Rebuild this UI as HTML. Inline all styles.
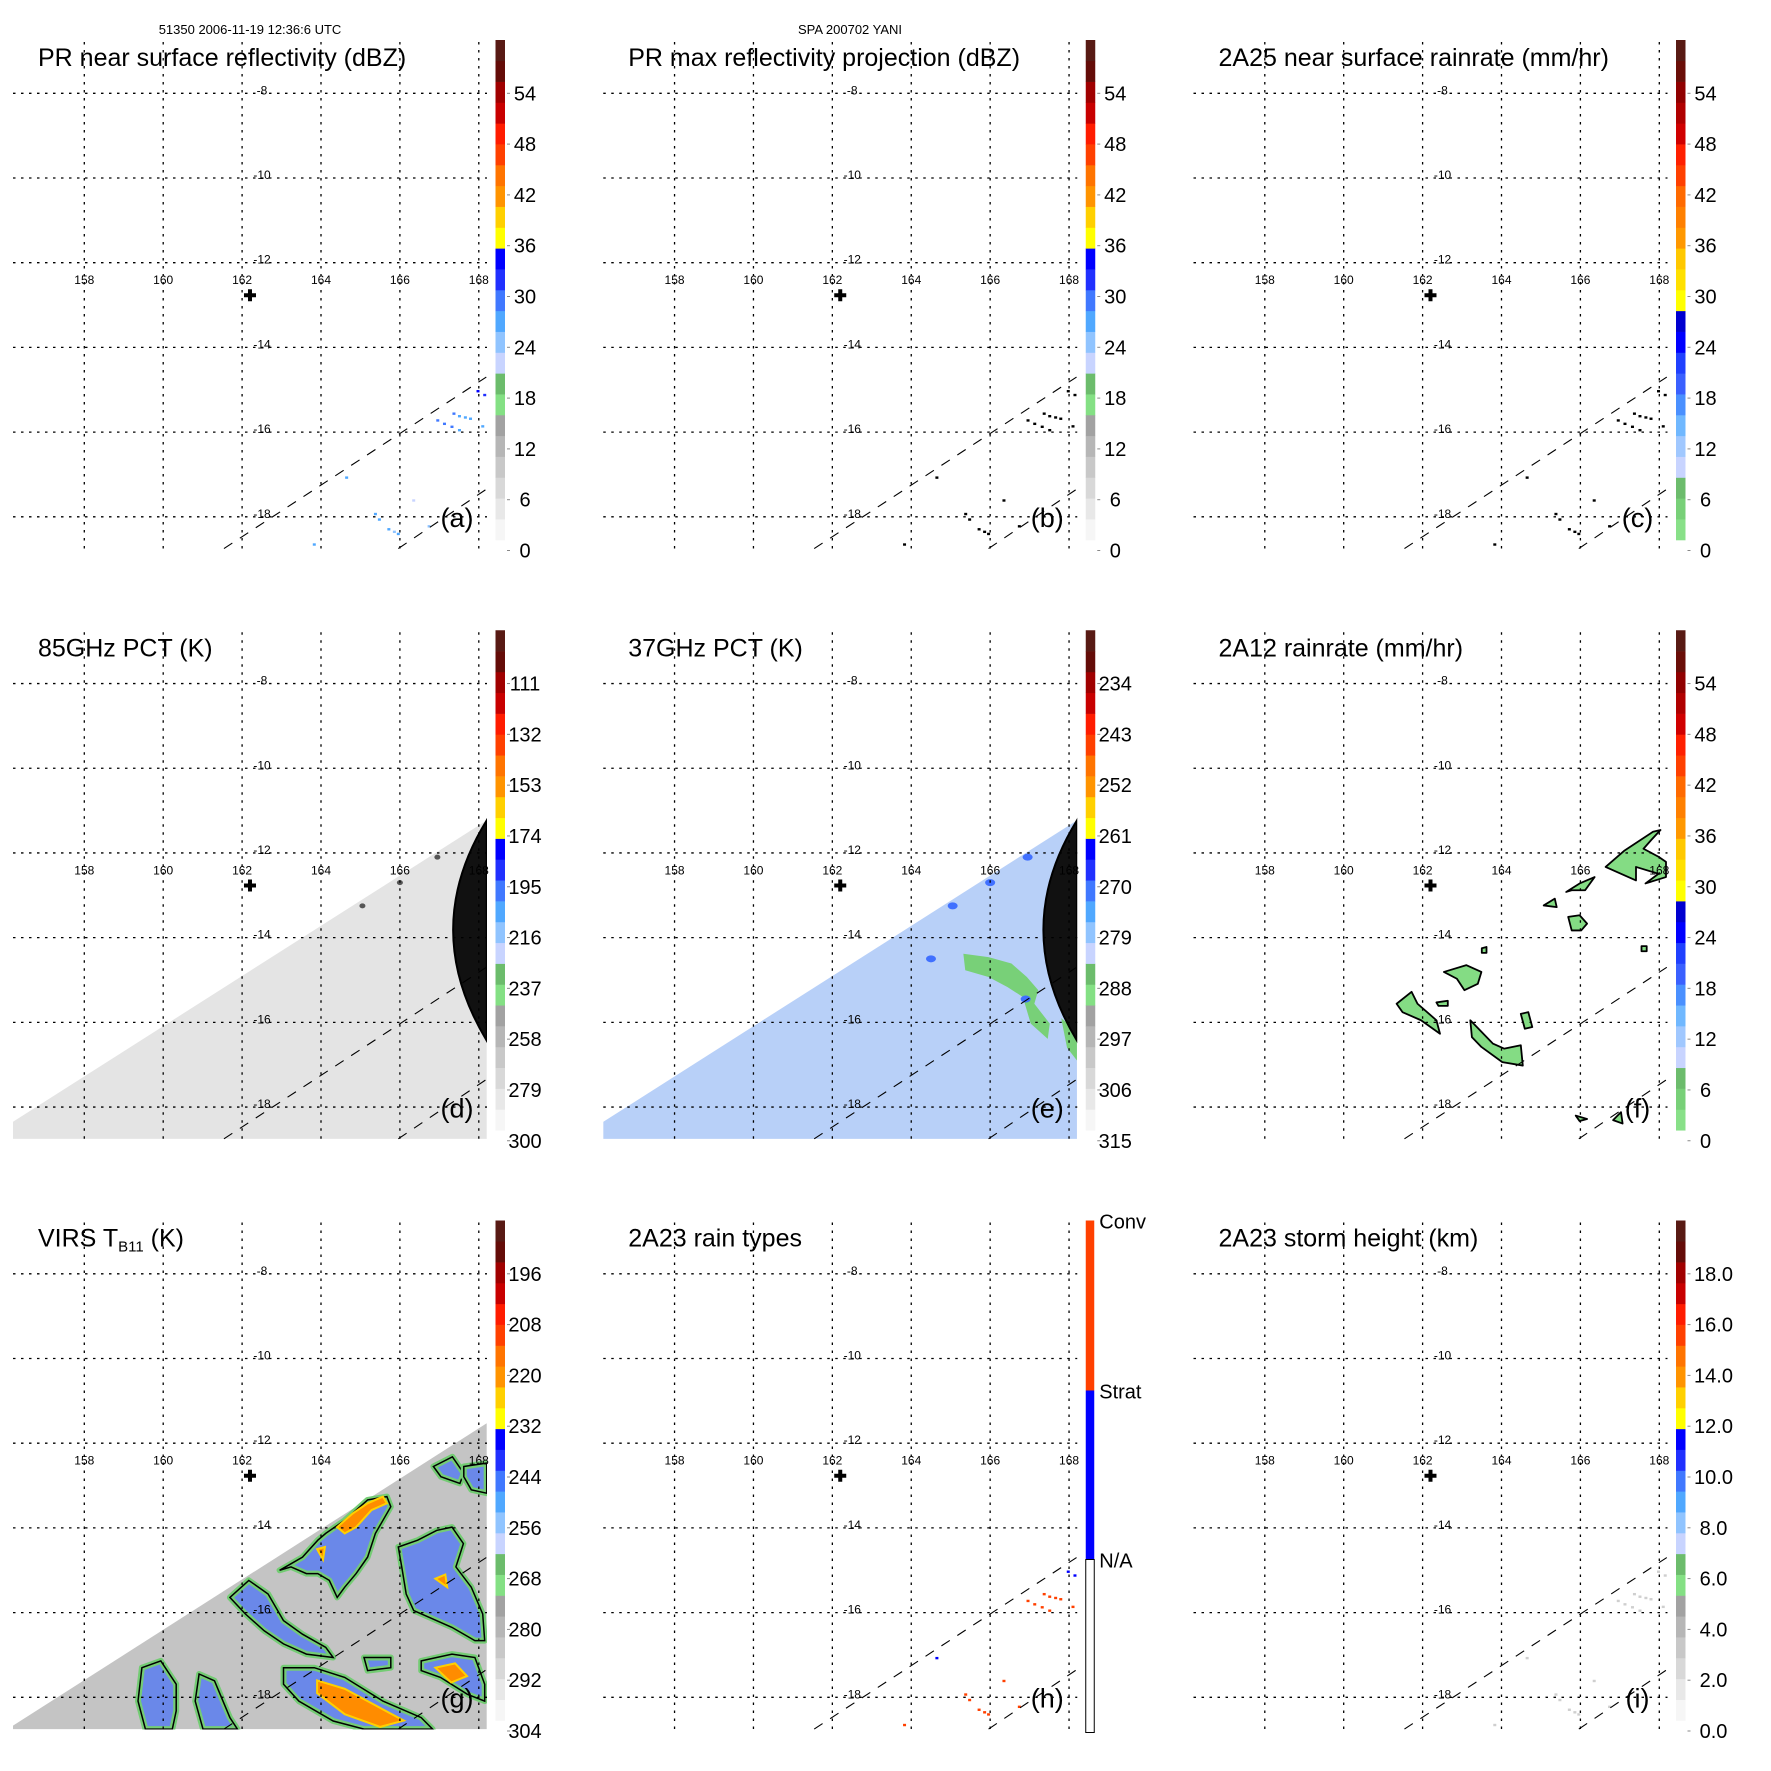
<!DOCTYPE html>
<html><head><meta charset="utf-8">
<style>
html,body{margin:0;padding:0;background:#fff;}
svg{display:block;font-family:"Liberation Sans",Arial,sans-serif;}
</style></head>
<body>
<svg id="fig" xmlns="http://www.w3.org/2000/svg" width="1771" height="1771" viewBox="0 0 1771 1771">
<rect x="0" y="0" width="1771" height="1771" fill="#fff"/>
<text x="250" y="34" font-size="13" text-anchor="middle">51350 2006-11-19 12:36:6 UTC</text>
<text x="850" y="34" font-size="13" text-anchor="middle">SPA 200702 YANI</text>
</svg>
<script>
// ---------- data arrays ----------
const lonTicks = [158, 160, 162, 164, 166, 168];
const latTicks = [-8, -10, -12, -14, -16, -18];
const stormCenter = [162.2, -12.77];
const swathEdge1 = [[161.54, -18.75], [168.19, -14.70]];
const swathEdge2 = [[165.96, -18.75], [168.19, -17.35]];
const prLons = [167.98, 168.15, 167.37, 167.51, 167.66, 167.79, 166.96, 167.13, 167.32, 167.51, 168.10, 164.65, 166.35, 165.38, 165.48, 165.72, 165.86, 165.96, 166.74, 163.83];
const prLats = [-15.03, -15.12, -15.56, -15.62, -15.65, -15.68, -15.72, -15.80, -15.87, -15.95, -15.86, -17.07, -17.61, -17.93, -18.06, -18.29, -18.35, -18.40, -18.22, -18.65];
const prDbz = [31, 29, 25, 24, 24, 23, 26, 25, 25, 24, 22, 22, 17, 22, 22, 22, 21, 22, 21, 22];
const rainType = [2, 2, 1, 1, 1, 1, 1, 1, 1, 1, 1, 2, 1, 1, 1, 1, 1, 1, 1, 1];
const ticksA = ['0', '6', '12', '18', '24', '30', '36', '42', '48', '54'];
const ticksC = ['0', '6', '12', '18', '24', '30', '36', '42', '48', '54'];
const ticksD = ['300', '279', '258', '237', '216', '195', '174', '153', '132', '111'];
const ticksE = ['315', '306', '297', '288', '279', '270', '261', '252', '243', '234'];
const ticksG = ['304', '292', '280', '268', '256', '244', '232', '220', '208', '196'];
const ticksI = ['0.0', '2.0', '4.0', '6.0', '8.0', '10.0', '12.0', '14.0', '16.0', '18.0'];
const swathDE = [[156.19, -18.35], [168.2, -11.23], [168.2, -18.75], [156.19, -18.75]];
const swathG = [[156.19, -18.67], [168.2, -11.53], [168.2, -18.75], [156.19, -18.75]];
const arcTop = [168.2, -11.23], arcCtrl = [166.5, -13.8], arcBot = [168.2, -16.43];
const eGreen = [[165.32,-14.38],[165.96,-14.46],[166.54,-14.61],[166.93,-14.93],[167.22,-15.24],[167.12,-15.56],[167.51,-16.03],[167.46,-16.39],[167.03,-16.03],[166.83,-15.40],[166.44,-15.17],[165.96,-14.93],[165.37,-14.77]];
const eGreen2 = [[167.8,-15.9],[168.2,-16.2],[168.2,-16.9],[167.95,-16.6]];
const eDark = [[165.05,-13.25],[166.0,-12.7],[166.95,-12.1],[164.5,-14.5],[166.9,-15.45]];
const fBlobs = [
 [[163.21,-15.95],[163.78,-16.50],[164.07,-16.62],[164.49,-16.54],[164.54,-17.02],[164.02,-16.94],[163.49,-16.58],[163.25,-16.35]],
 [[161.34,-15.56],[161.72,-15.28],[161.87,-15.56],[162.35,-15.95],[162.44,-16.27],[161.96,-15.95],[161.49,-15.76]],
 [[162.54,-14.81],[163.11,-14.65],[163.49,-14.81],[163.40,-15.09],[163.06,-15.24],[162.87,-14.97]],
 [[165.69,-13.51],[165.98,-13.47],[166.17,-13.67],[166.02,-13.83],[165.78,-13.83]],
 [[165.64,-12.92],[165.98,-12.72],[166.36,-12.57],[166.12,-12.88],[165.78,-12.88]],
 [[165.07,-13.24],[165.35,-13.08],[165.40,-13.28]],
 [[166.64,-12.33],[167.12,-11.94],[167.84,-11.50],[168.03,-11.46],[167.79,-11.70],[167.60,-11.90],[167.98,-12.09],[168.17,-12.21],[168.17,-12.57],[167.65,-12.72],[167.98,-12.49],[167.41,-12.33],[167.41,-12.65],[166.93,-12.45]],
 [[162.35,-15.53],[162.64,-15.49],[162.64,-15.61],[162.40,-15.61]],
 [[165.88,-18.20],[166.17,-18.28],[165.98,-18.33]],
 [[166.83,-18.31],[167.03,-18.12],[167.07,-18.39]],
 [[164.49,-15.80],[164.68,-15.76],[164.78,-16.11],[164.59,-16.15]],
 [[163.5,-14.25],[163.62,-14.22],[163.62,-14.36],[163.5,-14.36]],
 [[167.55,-14.2],[167.68,-14.2],[167.68,-14.32],[167.55,-14.32]]
];
const gBlue = [
 [[164.12,-14.13],[164.60,-13.82],[165.18,-13.34],[165.67,-13.26],[165.77,-13.50],[165.38,-14.13],[165.18,-14.69],[164.89,-15.08],[164.60,-15.40],[164.41,-15.64],[164.21,-15.24],[163.92,-15.08],[163.63,-15.08],[163.24,-14.92],[162.95,-15.00],[163.53,-14.69],[163.92,-14.29]],
 [[165.96,-14.45],[166.45,-14.29],[166.93,-14.06],[167.32,-13.98],[167.61,-14.37],[167.42,-14.92],[167.81,-15.40],[168.10,-16.03],[168.15,-16.66],[167.90,-16.66],[167.32,-16.35],[166.74,-16.11],[166.35,-15.95],[166.16,-15.56],[166.06,-15.00]],
 [[161.69,-15.64],[162.17,-15.24],[162.66,-15.56],[163.05,-16.19],[163.53,-16.51],[164.12,-16.82],[164.31,-17.06],[163.63,-16.98],[163.05,-16.74],[162.56,-16.43],[162.08,-16.03]],
 [[163.05,-17.30],[163.83,-17.30],[164.60,-17.53],[165.57,-18.09],[166.54,-18.48],[166.83,-18.75],[165.09,-18.75],[164.31,-18.56],[163.44,-18.09],[163.05,-17.69]],
 [[159.46,-17.30],[159.94,-17.14],[160.33,-17.69],[160.33,-18.32],[160.23,-18.75],[159.55,-18.75],[159.36,-18.09]],
 [[160.91,-17.45],[161.30,-17.61],[161.69,-18.48],[161.88,-18.75],[161.01,-18.75],[160.81,-18.09]],
 [[166.54,-17.14],[167.32,-16.98],[167.90,-17.06],[168.15,-17.69],[168.15,-18.09],[167.71,-17.93],[167.03,-17.53],[166.54,-17.37]],
 [[166.85,-12.55],[167.33,-12.32],[167.62,-12.71],[167.52,-12.95],[167.04,-12.79]],
 [[167.62,-12.55],[168.2,-12.47],[168.2,-13.18],[167.81,-13.10],[167.62,-12.79]],
 [[165.09,-17.06],[165.77,-17.06],[165.77,-17.30],[165.18,-17.37]]
];
const gOrange = [
 [[164.41,-13.98],[164.80,-13.66],[165.18,-13.42],[165.57,-13.26],[165.67,-13.42],[165.28,-13.58],[164.89,-13.98],[164.60,-14.13]],
 [[163.9,-17.6],[164.6,-17.8],[165.4,-18.2],[166.1,-18.55],[165.5,-18.7],[164.6,-18.4],[163.9,-17.9]],
 [[166.9,-17.3],[167.4,-17.2],[167.7,-17.5],[167.3,-17.65]],
 [[166.9,-15.2],[167.15,-15.1],[167.2,-15.4]],
 [[163.9,-14.5],[164.1,-14.45],[164.05,-14.75]]
];
const hBars = [
 {label:'Conv', color:'#ff4000'},
 {label:'Strat', color:'#0000ff'},
 {label:'N/A', color:'#ffffff'}
];
const schemeA = ['#f6f6f6','#e8e8e8','#d8d8d8','#c8c8c8','#b6b6b6','#a2a2a2','#84e084','#6cbc6c','#c8d4ff','#90c4ff','#50a8ff','#4078ff','#2030ff','#0000ff','#ffff00','#ffd000','#ff9400','#ff7400','#ff4000','#ff1c00','#c80000','#a00000','#640c08','#581a14'];
const schemeC = ['#88e088','#78d078','#6cbc6c','#c8d4ff','#a0c8ff','#70b8ff','#4a90ff','#3a60ff','#2040ff','#0000ff','#0000d0','#ffff00','#ffe000','#ffc800','#ff9800','#ff8000','#ff6a00','#ff4000','#ff2000','#d00000','#b00000','#900000','#6a0e08','#581a14'];

// ---------- helpers ----------
const NS = 'http://www.w3.org/2000/svg';
const svg = document.getElementById('fig');
const X = lon => 84.3 + (lon - 158) * 39.45;
const Y = lat => 93.3 + (-8 - lat) * 42.35;
const P = 590.25;
function el(tag, attrs, parent) {
  const e = document.createElementNS(NS, tag);
  for (const k in attrs) e.setAttribute(k, attrs[k]);
  parent.appendChild(e);
  return e;
}
function pts(arr) { return arr.map(p => X(p[0]).toFixed(1) + ',' + Y(p[1]).toFixed(1)).join(' '); }
function dbzColor(v, scheme) { let i = Math.floor(v / 60 * scheme.length); return scheme[Math.max(0, Math.min(scheme.length - 1, i))]; }

const panels = [
 {id:'a', title:'PR near surface reflectivity (dBZ)', ticks:ticksA, scheme:schemeA},
 {id:'b', title:'PR max reflectivity projection (dBZ)', ticks:ticksA, scheme:schemeA},
 {id:'c', title:'2A25 near surface rainrate (mm/hr)', ticks:ticksC, scheme:schemeC},
 {id:'d', title:'85GHz PCT (K)', ticks:ticksD, scheme:schemeA},
 {id:'e', title:'37GHz PCT (K)', ticks:ticksE, scheme:schemeA},
 {id:'f', title:'2A12 rainrate (mm/hr)', ticks:ticksC, scheme:schemeC},
 {id:'g', title:'VIRS T', ticks:ticksG, scheme:schemeA},
 {id:'h', title:'2A23 rain types', ticks:null, scheme:null},
 {id:'i', title:'2A23 storm height (km)', ticks:ticksI, scheme:schemeA}
];

panels.forEach((p, idx) => {
  const col = idx % 3, row = Math.floor(idx / 3);
  const g = el('g', {transform:`translate(${(col*P).toFixed(2)},${(row*P).toFixed(2)})`}, svg);
  
  

  const cp = el('clipPath', {id:'clip-' + p.id}, g);
  el('rect', {x:13, y:42, width:474, height:507}, cp);
  const data = el('g', {'clip-path':`url(#clip-${p.id})`}, g);
  
  

  if (p.id === 'd' || p.id === 'e') {
    const sw = el('polygon', {points:pts(swathDE), fill: p.id === 'd' ? '#e4e4e4' : '#b8d0f8'}, data);
    
    
    if (p.id === 'e') {
      [eGreen, eGreen2].forEach(b => {
        const q = el('polygon', {points:pts(b), fill:'#78d078'}, data);
        
        
      });
      eDark.forEach(c => {
        const q = el('ellipse', {cx:X(c[0]), cy:Y(c[1]), rx:5, ry:3.5, fill:'#4070ff'}, data);
        
        
      });
    } else {
      eDark.slice(0, 3).forEach(c => {
        const q = el('ellipse', {cx:X(c[0]), cy:Y(c[1]), rx:3, ry:2.5, fill:'#555'}, data);
        
        
      });
    }
    const arc = el('path', {d:`M${X(arcTop[0])},${Y(arcTop[1])} Q${X(arcCtrl[0])},${Y(arcCtrl[1])} ${X(arcBot[0])},${Y(arcBot[1])} Z`, fill:'#111', stroke:'#000', 'stroke-width':2}, data);
    
    
  }
  if (p.id === 'g') {
    const sw = el('polygon', {points:pts(swathG), fill:'#c4c4c4'}, data);
    
    
    gBlue.forEach(b => {
      const q = el('polygon', {points:pts(b), fill:'#5a7ef0', 'fill-opacity':0.85, stroke:'#74cc74', 'stroke-width':6, 'stroke-linejoin':'round'}, data);
      
      
      const o = el('polygon', {points:pts(b), fill:'none', stroke:'#000', 'stroke-width':1.5}, data);
      
      
    });
    gOrange.forEach(b => {
      const q = el('polygon', {points:pts(b), fill:'#ff8c00', stroke:'#ffd000', 'stroke-width':2}, data);
      
      
    });
  }
  if (p.id === 'f') {
    fBlobs.forEach(b => {
      const q = el('polygon', {points:pts(b), fill:'#84dc84', stroke:'#000', 'stroke-width':1.8, 'stroke-linejoin':'round'}, data);
      
      
    });
  }
  if ('abchi'.includes(p.id)) {
    prLons.forEach((lon, k) => {
      let c;
      if (p.id === 'a') c = dbzColor(prDbz[k] + 3, schemeA);
      else if (p.id === 'b' || p.id === 'c') c = '#000';
      else if (p.id === 'h') c = rainType[k] === 2 ? '#0000ff' : '#ff4000';
      else c = '#cfcfcf';
      const r = el('rect', {x:X(lon) - 1.5, y:Y(prLats[k]) - 1, width:3, height:2.4, fill:c}, data);
      
      
    });
  }

  lonTicks.forEach(lon => {
    const l = el('line', {x1:X(lon), y1:42, x2:X(lon), y2:549, stroke:'#000', 'stroke-width':1.3, 'stroke-dasharray':'2.5,5.5'}, g);
    
    
    const t = el('text', {x:X(lon), y:284, 'font-size':12, 'text-anchor':'middle'}, g);
    t.textContent = String(lon);
    
    
  });
  latTicks.forEach(lat => {
    const l = el('line', {x1:13, y1:Y(lat), x2:487, y2:Y(lat), stroke:'#000', 'stroke-width':1.3, 'stroke-dasharray':'2.5,5.5'}, g);
    
    
    const t = el('text', {x:262, y:Y(lat) + 1, 'font-size':12, 'text-anchor':'middle'}, g);
    t.textContent = String(lat);
    
    
  });
  [swathEdge1, swathEdge2].forEach(s => {
    const l = el('line', {x1:X(s[0][0]), y1:Y(s[0][1]), x2:X(s[1][0]), y2:Y(s[1][1]), stroke:'#000', 'stroke-width':1.1, 'stroke-dasharray':'10,9'}, g);
    
    
  });
  const cx = X(stormCenter[0]), cy = Y(stormCenter[1]);
  const cr = el('path', {d:`M${cx-6},${cy} H${cx+6} M${cx},${cy-6} V${cy+6}`, stroke:'#000', 'stroke-width':4}, g);
  
  

  const tt = el('text', {x:38, y:66, 'font-size':25}, g);
  
  
  if (p.id === 'g') {
    tt.textContent = 'VIRS T';
    const sub = el('tspan', {'font-size':15, dy:5}, tt); sub.textContent = 'B11';
    const rest = el('tspan', {dy:-5}, tt); rest.textContent = ' (K)';
  } else tt.textContent = p.title;

  const lt = el('text', {x:457, y:527, 'font-size':27, 'text-anchor':'middle'}, g);
  lt.textContent = '(' + p.id + ')';
  
  

  const cb = el('g', {}, g);
  
  
  if (p.scheme) {
    const top = 40, bot = 540, n = p.scheme.length, h = (bot - top) / n;
    p.scheme.forEach((c, k) => {
      const r = el('rect', {x:495.5, y:(bot - (k + 1) * h).toFixed(2), width:9.5, height:(h + 0.3).toFixed(2), fill:c}, cb);
      
      
    });
    const cxl = p.id === 'i' ? 533 : 525;
    p.ticks.forEach((lab, k) => {
      const ty = 550.5 - k * 50.8;
      const tk = el('line', {x1:507, y1:ty, x2:510, y2:ty, stroke:'#888', 'stroke-width':1}, cb);
      
      
      const t = el('text', {x:cxl, y:ty + 7, 'font-size':20, 'text-anchor':'middle'}, cb);
      t.textContent = lab;
      
      
    });
  } else {
    const bounds = [40, 210, 379, 552];
    hBars.forEach((b, k) => {
      const r = el('rect', {x:495.5, y:bounds[k], width:8.5, height:bounds[k + 1] - bounds[k], fill:b.color, stroke: b.color === '#ffffff' ? '#000' : 'none', 'stroke-width':1}, cb);
      
      
      const t = el('text', {x:509, y:bounds[k] + 8, 'font-size':20}, cb);
      t.textContent = b.label;
      
      
    });
  }
});
</script>
</body></html>
